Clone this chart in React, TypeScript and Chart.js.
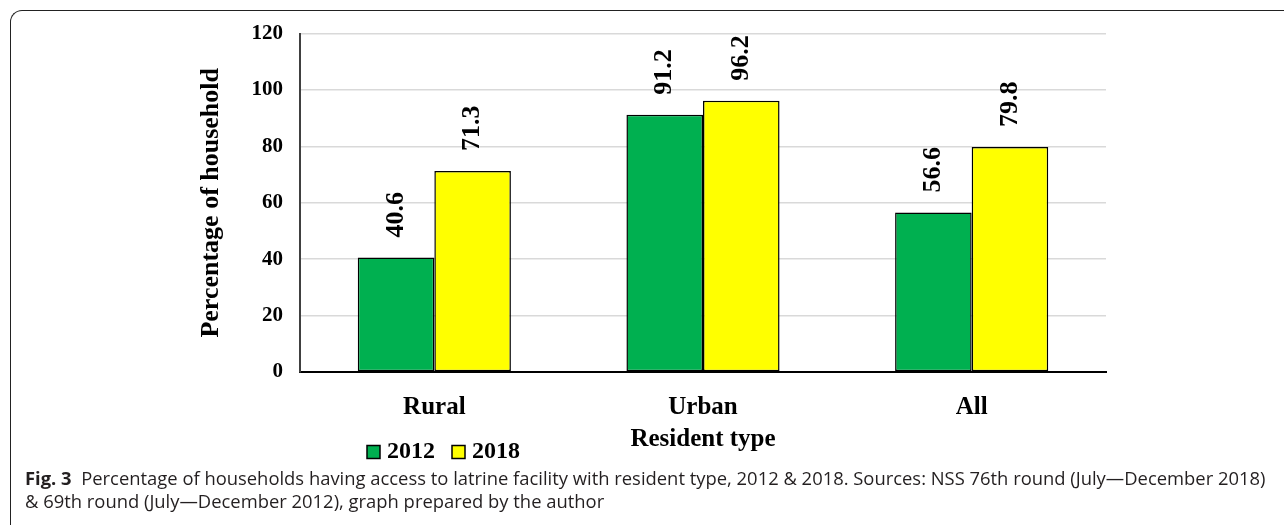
import React, { useEffect, useRef } from "react";
import { Chart, registerables } from "chart.js";

Chart.register(...registerables);

const categories = ["Rural", "Urban", "All"];
const seriesNames = ["2012", "2018"];
const values2012 = [40.6, 91.2, 56.6];
const values2018 = [71.3, 96.2, 79.8];
const seriesColors = ["#00B050", "#FFFF00"];
const yMin = 0;
const yMax = 120;
const yStep = 20;
const yTitle = "Percentage of household";
const xTitle = "Resident type";

const SERIF = '"Liberation Serif", "Times New Roman", serif';

const valueLabelPlugin = {
  id: "valueLabels",
  afterDatasetsDraw(chart: any) {
    const ctx = chart.ctx;
    ctx.save();
    ctx.font = `bold 26px ${SERIF}`;
    ctx.fillStyle = "#000";
    ctx.textAlign = "left";
    ctx.textBaseline = "middle";
    chart.data.datasets.forEach((ds: any, di: number) => {
      const meta = chart.getDatasetMeta(di);
      meta.data.forEach((bar: any, i: number) => {
        const v = ds.data[i];
        ctx.save();
        ctx.translate(bar.x, bar.y - 20);
        ctx.rotate(-Math.PI / 2);
        ctx.fillText(Number(v).toFixed(1), 0, 0);
        ctx.restore();
      });
    });
    ctx.restore();
  },
};

const legendPlugin = {
  id: "customLegend",
  afterDraw(chart: any) {
    const ctx = chart.ctx;
    const area = chart.chartArea;
    ctx.save();
    ctx.font = `bold 24px ${SERIF}`;
    ctx.textAlign = "left";
    ctx.textBaseline = "middle";
    let x = area.left + 67;
    const y = area.bottom + 80;
    chart.data.datasets.forEach((ds: any) => {
      ctx.fillStyle = ds.backgroundColor;
      ctx.fillRect(x, y - 6.5, 13, 13);
      ctx.strokeStyle = "#000";
      ctx.lineWidth = 1.5;
      ctx.strokeRect(x, y - 6.5, 13, 13);
      ctx.fillStyle = "#000";
      ctx.fillText(ds.label, x + 20, y);
      x += 20 + ctx.measureText(ds.label).width + 17;
    });
    ctx.restore();
  },
};

export default function App() {
  const ref = useRef<HTMLCanvasElement>(null);

  useEffect(() => {
    const canvas = ref.current;
    if (!canvas) return;
    const chart = new Chart(canvas, {
      type: "bar",
      data: {
        labels: categories,
        datasets: [
          {
            label: seriesNames[0],
            data: values2012,
            backgroundColor: seriesColors[0],
            borderColor: "#000",
            borderWidth: 1.5,
            borderSkipped: false,
            categoryPercentage: 0.57,
            barPercentage: 1,
          },
          {
            label: seriesNames[1],
            data: values2018,
            backgroundColor: seriesColors[1],
            borderColor: "#000",
            borderWidth: 1.5,
            borderSkipped: false,
            categoryPercentage: 0.57,
            barPercentage: 1,
          },
        ],
      },
      options: {
        animation: false,
        responsive: false,
        maintainAspectRatio: false,
        layout: { padding: { left: 185, right: 24, top: 18, bottom: 25 } },
        plugins: {
          legend: { display: false },
          tooltip: { enabled: false },
        },
        scales: {
          x: {
            grid: { display: false, drawTicks: false },
            border: { display: true, color: "#000", width: 2 },
            ticks: {
              color: "#000",
              font: { family: SERIF, size: 25, weight: "bold" },
              padding: 21,
            },
            title: {
              display: true,
              text: xTitle,
              color: "#000",
              font: { family: SERIF, size: 25, weight: "bold" },
              padding: { top: 0, bottom: 0 },
            },
            afterFit(scale: any) {
              scale.height = 83;
            },
          },
          y: {
            min: yMin,
            max: yMax,
            ticks: {
              stepSize: yStep,
              color: "#000",
              font: { family: SERIF, size: 21, weight: "bold" },
              padding: 17,
            },
            grid: { color: "#d9d9d9", lineWidth: 1.5, drawTicks: false },
            border: { display: true, color: "#404040", width: 2 },
            title: {
              display: true,
              text: yTitle,
              color: "#000",
              font: { family: SERIF, size: 26, weight: "bold" },
              padding: { top: 11, bottom: 0 },
            },
            afterFit(scale: any) {
              scale.width = 115;
            },
          },
        },
      },
      plugins: [valueLabelPlugin, legendPlugin],
    });
    return () => chart.destroy();
  }, []);

  return (
    <div
      style={{
        position: "fixed",
        left: 0,
        top: 0,
        width: 1284,
        height: 525,
        overflow: "hidden",
        background: "#fff",
      }}
    >
      <div
        style={{
          position: "absolute",
          left: 10,
          top: 10,
          width: 1400,
          height: 600,
          borderTop: "1.5px solid #222",
          borderLeft: "1.5px solid #222",
          borderTopLeftRadius: 12,
        }}
      />
      <canvas
        ref={ref}
        width={1130}
        height={476}
        style={{ position: "absolute", left: 0, top: 4, width: 1130, height: 476 }}
      />
      <div
        style={{
          position: "absolute",
          left: 25,
          top: 466,
          width: 1255,
          fontFamily: '"Open Sans", "Noto Sans", sans-serif',
          fontSize: 18.4,
          lineHeight: "23px",
          color: "#231f20",
          whiteSpace: "pre",
        }}
      >
        <span style={{ fontWeight: 700 }}>Fig. 3</span>
        {"  Percentage of households having access to latrine facility with resident type, 2012 & 2018. Sources: NSS 76th round (July—December 2018)"}
        <br />
        {"& 69th round (July—December 2012), graph prepared by the author"}
      </div>
    </div>
  );
}
